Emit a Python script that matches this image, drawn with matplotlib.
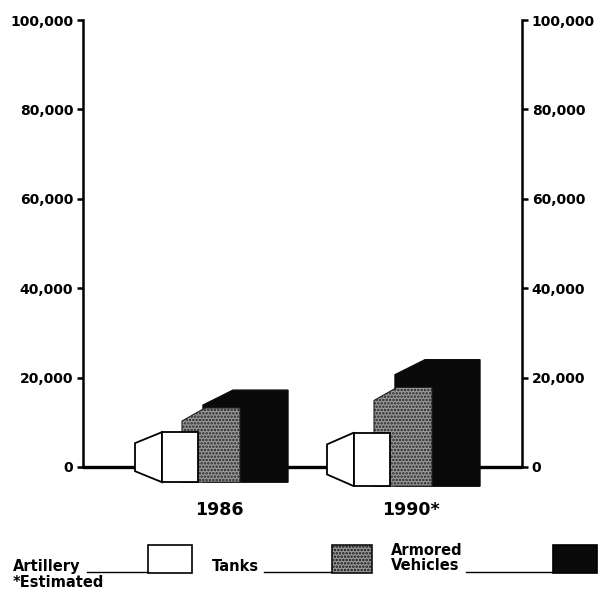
import matplotlib
matplotlib.use('Agg')
import matplotlib.pyplot as plt
from matplotlib.patches import Polygon, Rectangle
from matplotlib.lines import Line2D

# ---- data ----
years = ['1986', '1990*']
artillery = [7800, 7700]
tanks = [13200, 17800]
armored = [17200, 24000]
yticks = [0, 20000, 40000, 60000, 80000, 100000]
ytick_labels = ['0', '20,000', '40,000', '60,000', '80,000', '100,000']
legend_labels = ['Artillery', 'Tanks', 'Armored\nVehicles']
footnote = '*Estimated'

# ---- layout constants ----
W, H = 598, 599
GROUP_X = [0, 192]          # group offsets (x units = pixels from left axis)
BOTTOM = [-3400, -4300]     # perspective bottoms of the shapes
UNIT = 1000 / 4.47          # value units per pixel
GRAY = '#999999'
plt.rcParams['hatch.linewidth'] = 1.2

fig = plt.figure(figsize=(W / 100, H / 100), dpi=100)
ax_h = 112000 / UNIT
ax = fig.add_axes([83 / W, 1 - (20 + ax_h) / H, 439 / W, ax_h / H])
ax.set_xlim(0, 439)
ax.set_ylim(-12000, 100000)

for s in ['top', 'bottom']:
    ax.spines[s].set_visible(False)
for s in ['left', 'right']:
    ax.spines[s].set_linewidth(1.8)
    ax.spines[s].set_bounds(0, 100000)
ax.set_xticks([])
ax.set_yticks(yticks)
ax.set_yticklabels(ytick_labels)
ax.tick_params(axis='y', which='both', left=True, right=True, labelleft=True,
               labelright=True, direction='out', length=4.5, width=1.8, pad=2.5)
for lab in ax.get_yticklabels():
    lab.set_fontweight('bold')
    lab.set_fontsize(10)
ax.patch.set_alpha(0)

# baseline
ax.axhline(0, color='black', lw=2.4, zorder=1)

for i, x0 in enumerate(GROUP_X):
    b = BOTTOM[i]
    # armored vehicles (back)
    top = armored[i]
    ax.add_patch(Polygon([(x0 + 120, b), (x0 + 120, top - 15 * UNIT), (x0 + 150, top),
                          (x0 + 205, top), (x0 + 205, b)], closed=True,
                         facecolor='#0a0a0a', edgecolor='#0a0a0a', lw=1, zorder=2))
    # tanks (middle)
    top = tanks[i]
    ax.add_patch(Polygon([(x0 + 99, b), (x0 + 99, top - 13 * UNIT), (x0 + 122, top),
                          (x0 + 157, top), (x0 + 157, b)], closed=True,
                         facecolor=GRAY, edgecolor='#222222', hatch='.....', lw=0.8, zorder=3))
    # artillery (front) - nose and body
    top = artillery[i]
    mid = (top + b) / 2
    half = (top - b) / 2 * 0.56
    ax.add_patch(Polygon([(x0 + 52, mid + half), (x0 + 79, top), (x0 + 79, b),
                          (x0 + 52, mid - half)], closed=True,
                         facecolor='white', edgecolor='black', lw=1.3, zorder=4))
    ax.add_patch(Polygon([(x0 + 79, top), (x0 + 115, top), (x0 + 115, b), (x0 + 79, b)],
                         closed=True, facecolor='white', edgecolor='black', lw=1.3, zorder=4))
    # year label
    ax.text(x0 + 136, -48 * UNIT, years[i], ha='center', va='baseline',
            fontsize=12.5, fontweight='bold', zorder=5)

# ---- legend (figure pixel coordinates) ----
def fx(px):
    return px / W

def fy(py):
    return 1 - py / H

leg_font = dict(fontsize=10.5, fontweight='bold', transform=fig.transFigure)
fig.text(fx(13), fy(571), legend_labels[0], ha='left', va='baseline', **leg_font)
fig.text(fx(212), fy(571), legend_labels[1], ha='left', va='baseline', **leg_font)
lines = legend_labels[2].split('\n')
fig.text(fx(391), fy(555), lines[0], ha='left', va='baseline', **leg_font)
fig.text(fx(391), fy(570), lines[1], ha='left', va='baseline', **leg_font)
fig.text(fx(13), fy(587), footnote, ha='left', va='baseline', **leg_font)

for (x1, x2) in [(87, 148), (264, 332), (466, 553)]:
    fig.add_artist(Line2D([fx(x1), fx(x2)], [fy(572), fy(572)], color='black', lw=1.0,
                          transform=fig.transFigure))

boxes = [(148, 192, 'white', None), (332, 372, GRAY, '.....'), (553, 597, '#0a0a0a', None)]
for (x1, x2, fc, hatch) in boxes:
    fig.add_artist(Rectangle((fx(x1), fy(573)), fx(x2) - fx(x1), (573 - 545) / H,
                             facecolor=fc, edgecolor='#111111' if hatch else 'black',
                             hatch=hatch, lw=1.2, transform=fig.transFigure))

fig.savefig('out.png', dpi=100)
